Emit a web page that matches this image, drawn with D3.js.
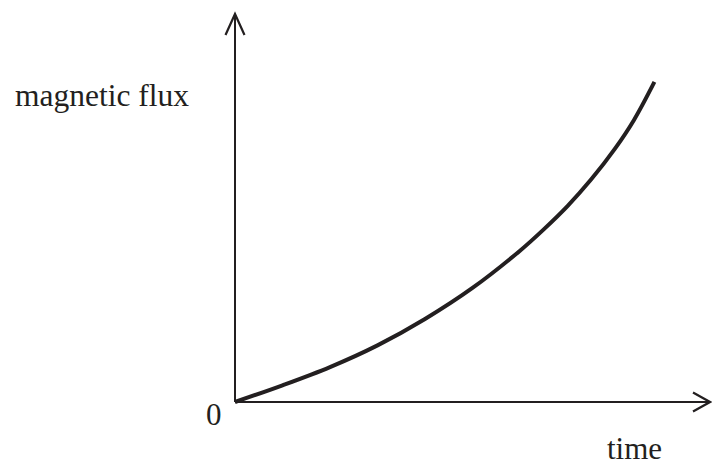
<!DOCTYPE html>
<html>
<head>
<meta charset="utf-8">
<script src="https://cdn.jsdelivr.net/npm/d3@7"></script>
<style>
  html, body { margin: 0; padding: 0; background: #fff; }
  svg { display: block; }
  text { font-family: "Liberation Serif", "Times New Roman", serif; fill: #231f20; }
</style>
</head>
<body>
<script>
// Data (arbitrary units)
const time = [0, 10, 20, 30, 40, 50, 60, 65, 70, 75, 80, 84, 88.3];
const flux = [0, 4.3, 9.0, 14.6, 21.4, 29.4, 39.0, 44.5, 50.5, 57.4, 65.3, 72.7, 82.5];
const xLabel = "time";
const yLabel = "magnetic flux";
const originLabel = "0";

const W = 712, H = 466;
const ink = "#231f20";

const svg = d3.select("body").append("svg").attr("width", W).attr("height", H);

const x = d3.scaleLinear().domain([0, 100]).range([235, 710]);
const y = d3.scaleLinear().domain([0, 100]).range([402, 14]);

const [x0, x1] = x.range();
const [y0, y1] = y.range();

// Axes
svg.append("line").attr("x1", x0).attr("y1", y0).attr("x2", x0).attr("y2", y1)
  .attr("stroke", ink).attr("stroke-width", 2);
svg.append("line").attr("x1", x0).attr("y1", y0).attr("x2", x1).attr("y2", y0)
  .attr("stroke", ink).attr("stroke-width", 2);

// Arrowheads (open chevrons)
svg.append("path")
  .attr("d", `M${x0 - 9.5},${y1 + 21} L${x0},${y1} L${x0 + 9.5},${y1 + 21}`)
  .attr("fill", "none").attr("stroke", ink).attr("stroke-width", 2.2);
svg.append("path")
  .attr("d", `M${x1 - 17},${y0 - 9.5} L${x1},${y0} L${x1 - 17},${y0 + 9.5}`)
  .attr("fill", "none").attr("stroke", ink).attr("stroke-width", 2.2);

// Curve
const pts = time.map((t, i) => [t, flux[i]]);
const line = d3.line().x(d => x(d[0])).y(d => y(d[1])).curve(d3.curveCatmullRom.alpha(0.5));
svg.append("path").datum(pts).attr("d", line)
  .attr("fill", "none").attr("stroke", ink).attr("stroke-width", 4)
  .attr("stroke-linecap", "butt");

// Labels
svg.append("text").attr("x", 15).attr("y", 106).attr("font-size", 31.5).text(yLabel);
svg.append("text").attr("x", 206).attr("y", 425).attr("font-size", 31).text(originLabel);
svg.append("text").attr("x", 607).attr("y", 459).attr("font-size", 31).text(xLabel);
</script>
</body>
</html>
